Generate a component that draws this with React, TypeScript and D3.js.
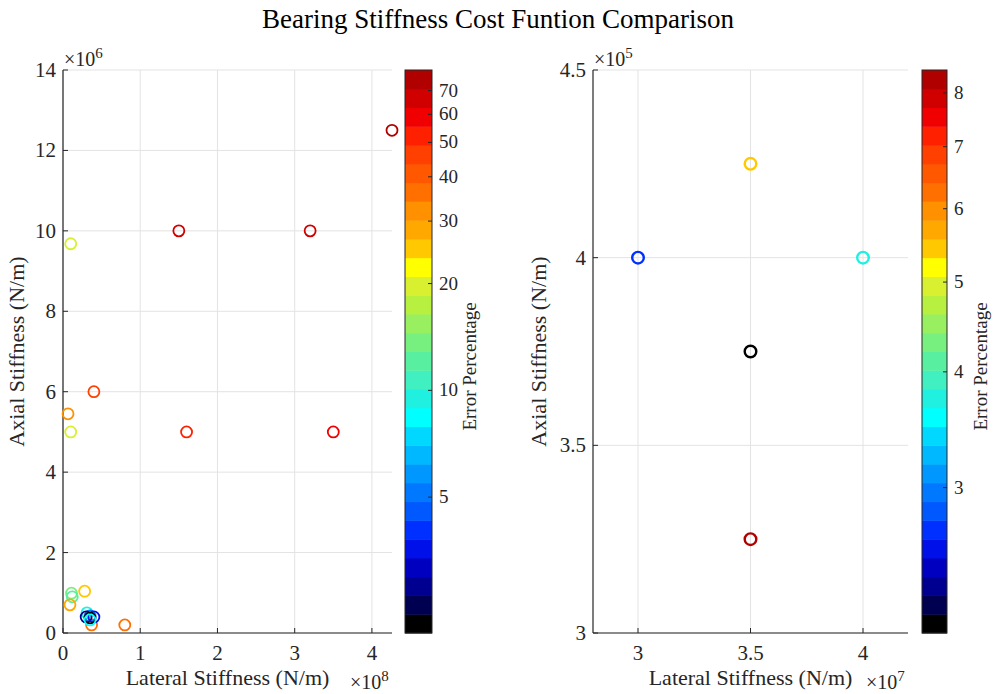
import React from 'react';
import * as d3 from 'd3';

// ---------- data ----------
const leftLateral = [4.26e8, 1.5e8, 3.2e8, 0.1e8, 0.4e8, 0.065e8, 0.1e8, 1.6e8, 3.5e8, 0.11e8, 0.12e8, 0.28e8, 0.09e8, 0.31e8, 0.37e8, 0.8e8, 3.5e7, 3e7, 4e7, 3.5e7, 3.5e7];
const leftAxial = [12.5e6, 10e6, 10e6, 9.68e6, 6e6, 5.45e6, 5e6, 5e6, 5e6, 0.99e6, 0.9e6, 1.04e6, 0.7e6, 0.5e6, 0.2e6, 0.2e6, 4.25e5, 4e5, 4e5, 3.75e5, 3.25e5];
const leftError = [72, 66, 64, 19, 44, 34, 19, 52, 62, 13.7, 12, 26, 28, 10, 38, 38, 5.3, 2.65, 3.76, 2.09, 8.4];

const rightLateral = [3e7, 3.5e7, 4e7, 3.5e7, 3.5e7];
const rightAxial = [4e5, 4.25e5, 4e5, 3.75e5, 3.25e5];
const rightError = [2.65, 5.4, 3.76, 2.09, 8.4];

const leftXTicks = [0, 1e8, 2e8, 3e8, 4e8];
const leftYTicks = [0, 2e6, 4e6, 6e6, 8e6, 10e6, 12e6, 14e6];
const rightXTicks = [3e7, 3.5e7, 4e7];
const rightYTicks = [3e5, 3.5e5, 4e5, 4.5e5];
const leftCbTicks = [5, 10, 20, 30, 40, 50, 60, 70];
const rightCbTicks = [3, 4, 5, 6, 7, 8];
const leftCbRange = [2.07, 80];
const rightCbRange = [2.09, 8.47];

// colormap bands, bottom to top
const bandColors = [
  '#000000', '#000050', '#000090', '#0000C0', '#0010E8', '#0030FF', '#0058FF', '#0078FF', '#0098FF', '#00B8FF',
  '#00D8FF', '#00FFFF', '#20F0E0', '#40F0C0', '#58F0A0', '#78F080', '#98F060', '#B8F040', '#D8F030', '#FFFF00',
  '#FFC800', '#FFA800', '#FF9000', '#FF7000', '#FF5800', '#FF4000', '#FF2000', '#F00000', '#D00000', '#B00000',
];

const FONT = "'Liberation Serif', 'Times New Roman', serif";
const AXIS = '#262626';
const GRID = '#e3e3e3';

function colorFor(v: number, range: number[]) {
  const s = d3.scaleLog().domain(range).range([0, bandColors.length]);
  const idx = Math.max(0, Math.min(bandColors.length - 1, Math.floor(s(v))));
  return bandColors[idx];
}

type PanelProps = {
  xs: number[]; ys: number[]; errs: number[];
  xDomain: number[]; yDomain: number[];
  xRange: number[]; yRange: number[];
  xTicks: number[]; yTicks: number[];
  xDiv: number; yDiv: number; xExp: number; yExp: number;
  cbRange: number[]; cbTicks: number[]; cbX: number; cbW: number;
  yLabelX: number; cbLabelX: number; r: number; sw: number;
};

function Panel(p: PanelProps) {
  const x = d3.scaleLinear().domain(p.xDomain).range(p.xRange);
  const y = d3.scaleLinear().domain(p.yDomain).range(p.yRange);
  const cb = d3.scaleLog().domain(p.cbRange).range([p.yRange[0], p.yRange[1]]);
  const bandH = (p.yRange[0] - p.yRange[1]) / bandColors.length;
  const fmt = (v: number) => String(+v.toFixed(2));
  const x0 = p.xRange[0], x1 = p.xRange[1], yB = p.yRange[0], yT = p.yRange[1];
  return (
    <g fontFamily={FONT} fill={AXIS}>
      {/* grid */}
      {p.xTicks.map((t, i) => (
        <line key={'gx' + i} x1={x(t)} x2={x(t)} y1={yB} y2={yT} stroke={GRID} strokeWidth={1} />
      ))}
      {p.yTicks.map((t, i) => (
        <line key={'gy' + i} x1={x0} x2={x1} y1={y(t)} y2={y(t)} stroke={GRID} strokeWidth={1} />
      ))}
      {/* axes */}
      <line x1={x0} x2={x1} y1={yB} y2={yB} stroke={AXIS} strokeWidth={1.2} />
      <line x1={x0} x2={x0} y1={yB} y2={yT} stroke={AXIS} strokeWidth={1.2} />
      {p.xTicks.map((t, i) => (
        <g key={'tx' + i}>
          <line x1={x(t)} x2={x(t)} y1={yB} y2={yB - 5} stroke={AXIS} strokeWidth={1} />
          <text x={x(t)} y={yB + 27} fontSize={21} textAnchor="middle" fill={AXIS}>{fmt(t / p.xDiv)}</text>
        </g>
      ))}
      {p.yTicks.map((t, i) => (
        <g key={'ty' + i}>
          <line x1={x0} x2={x0 + 5} y1={y(t)} y2={y(t)} stroke={AXIS} strokeWidth={1} />
          <text x={x0 - 7} y={y(t) + 7} fontSize={21} textAnchor="end" fill={AXIS}>{fmt(t / p.yDiv)}</text>
        </g>
      ))}
      {/* exponents */}
      <text x={x0 + 1} y={yT - 4} fontSize={20} fill={AXIS}>
        ×10<tspan dy={-8} fontSize={15}>{p.yExp}</tspan>
      </text>
      <text x={x1 - 42} y={yB + 56} fontSize={20} fill={AXIS}>
        ×10<tspan dy={-8} fontSize={15}>{p.xExp}</tspan>
      </text>
      {/* axis labels */}
      <text x={(x0 + x1) / 2 - 0} y={yB + 52} fontSize={22} textAnchor="middle" fill={AXIS}>Lateral Stiffness (N/m)</text>
      <text transform={`translate(${p.yLabelX},${(yB + yT) / 2}) rotate(-90)`} fontSize={22} textAnchor="middle" fill={AXIS}>Axial Stiffness (N/m)</text>
      {/* points */}
      {p.xs.map((v, i) => (
        <circle key={'p' + i} cx={x(v)} cy={y(p.ys[i])} r={p.r} fill="none"
          stroke={colorFor(p.errs[i], p.cbRange)} strokeWidth={p.sw} />
      ))}
      {/* colorbar */}
      {bandColors.map((c, i) => (
        <rect key={'b' + i} x={p.cbX} y={yB - (i + 1) * bandH} width={p.cbW} height={bandH + 0.5} fill={c} />
      ))}
      <rect x={p.cbX} y={yT} width={p.cbW} height={yB - yT} fill="none" stroke={AXIS} strokeWidth={1} />
      {p.cbTicks.map((t, i) => (
        <g key={'cb' + i}>
          <line x1={p.cbX + p.cbW} x2={p.cbX + p.cbW - 4} y1={cb(t)} y2={cb(t)} stroke={AXIS} strokeWidth={1} />
          <text x={p.cbX + p.cbW + 7} y={cb(t) + 6} fontSize={19} fill={AXIS}>{t}</text>
        </g>
      ))}
      <text transform={`translate(${p.cbLabelX},${(yB + yT) / 2 + 15}) rotate(-90)`} fontSize={19} textAnchor="middle" fill={AXIS}>Error Percentage</text>
    </g>
  );
}

export default function App() {
  return (
    <svg width={993} height={694} style={{ position: 'absolute', left: 0, top: 0, background: '#fff' }}>
      <rect x={0} y={0} width={993} height={694} fill="#fff" />
      <text x={498} y={28} fontSize={27} textAnchor="middle" fontFamily={FONT} fill="#000">Bearing Stiffness Cost Funtion Comparison</text>
      <Panel xs={leftLateral} ys={leftAxial} errs={leftError}
        xDomain={[0, 4.26e8]} yDomain={[0, 14e6]} xRange={[63, 392]} yRange={[633, 70]}
        xTicks={leftXTicks} yTicks={leftYTicks} xDiv={1e8} yDiv={1e6} xExp={8} yExp={6}
        cbRange={leftCbRange} cbTicks={leftCbTicks} cbX={405} cbW={27}
        yLabelX={24} cbLabelX={476} r={5.5} sw={1.8} />
      <Panel xs={rightLateral} ys={rightAxial} errs={rightError}
        xDomain={[2.8e7, 4.2e7]} yDomain={[3e5, 4.5e5]} xRange={[593, 908]} yRange={[633, 70]}
        xTicks={rightXTicks} yTicks={rightYTicks} xDiv={1e7} yDiv={1e5} xExp={7} yExp={5}
        cbRange={rightCbRange} cbTicks={rightCbTicks} cbX={922} cbW={25}
        yLabelX={546} cbLabelX={987} r={5.8} sw={2.4} />
    </svg>
  );
}
